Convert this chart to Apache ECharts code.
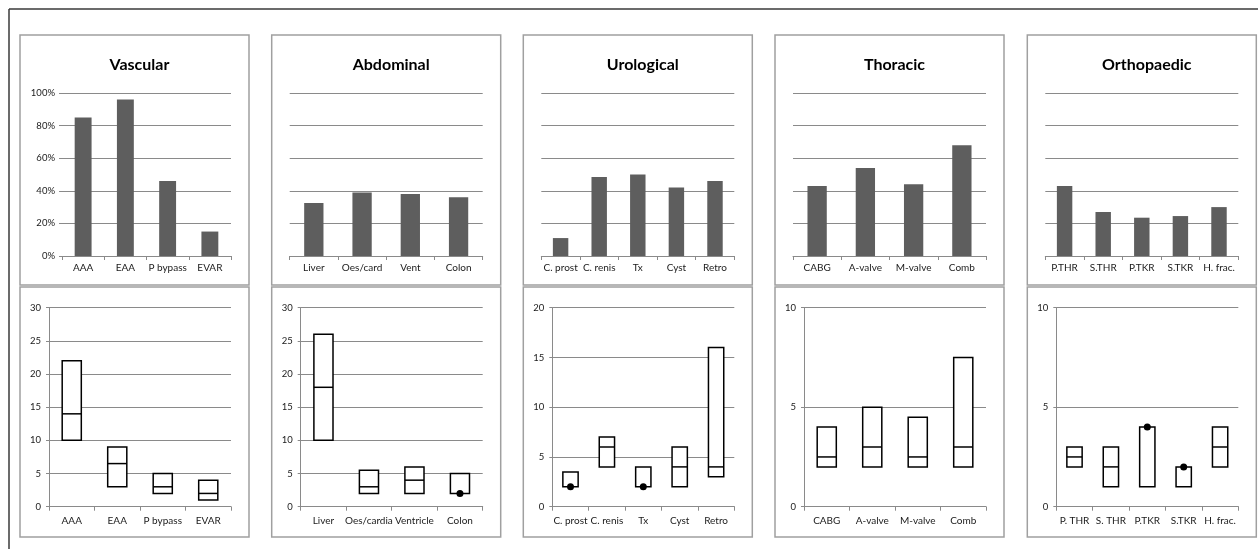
<!DOCTYPE html>
<html>
<head>
<meta charset="utf-8">
<script src="https://cdn.jsdelivr.net/npm/echarts@6/dist/echarts.min.js"></script>
<style>
  html, body { margin: 0; padding: 0; background: #fff; }
  #chart { width: 1258px; height: 554px; }
</style>
</head>
<body>
<div id="chart"></div>
<script>
// Specialty panels
const panelTitles = ['Vascular', 'Abdominal', 'Urological', 'Thoracic', 'Orthopaedic'];

// Upper row: share per procedure (fraction of 1)
const shareCategories = [
  ['AAA', 'EAA', 'P bypass', 'EVAR'],
  ['Liver', 'Oes/card', 'Vent', 'Colon'],
  ['C. prost', 'C. renis', 'Tx', 'Cyst', 'Retro'],
  ['CABG', 'A-valve', 'M-valve', 'Comb'],
  ['P.THR', 'S.THR', 'P.TKR', 'S.TKR', 'H. frac.']
];
const shareValues = [
  [0.85, 0.96, 0.46, 0.15],
  [0.325, 0.39, 0.38, 0.36],
  [0.11, 0.485, 0.50, 0.42, 0.46],
  [0.43, 0.54, 0.44, 0.68],
  [0.43, 0.27, 0.235, 0.245, 0.30]
];
const shareTickLabels = ['0%', '20%', '40%', '60%', '80%', '100%'];

// Lower row: range (low..high) with median per procedure
const rangeCategories = [
  ['AAA', 'EAA', 'P bypass', 'EVAR'],
  ['Liver', 'Oes/cardia', 'Ventricle', 'Colon'],
  ['C. prost', 'C. renis', 'Tx', 'Cyst', 'Retro'],
  ['CABG', 'A-valve', 'M-valve', 'Comb'],
  ['P. THR', 'S. THR', 'P.TKR', 'S.TKR', 'H. frac.']
];
const rangeLow = [
  [10, 3, 2, 1],
  [10, 2, 2, 2],
  [2, 4, 2, 2, 3],
  [2, 2, 2, 2],
  [2, 1, 1, 1, 2]
];
const rangeHigh = [
  [22, 9, 5, 4],
  [26, 5.5, 6, 5],
  [3.5, 7, 4, 6, 16],
  [4, 5, 4.5, 7.5],
  [3, 3, 4, 2, 4]
];
const rangeMedian = [
  [14, 6.5, 3, 2],
  [18, 3, 4, 2],
  [2, 6, 2, 4, 4],
  [2.5, 3, 2.5, 3],
  [2.5, 2, 4, 2, 3]
];
const rangeAxisMax = [30, 30, 20, 10, 10];

// Layout
const FONT = 'Lato, "Open Sans", sans-serif';
const boxLeft = [20, 271.7, 523.3, 775, 1027.3];
const boxWidth = 229;
const gridColor = '#8a8a8a';
const textColor = '#1a1a1a';

const chart = echarts.init(document.getElementById('chart'), null, { renderer: 'canvas' });

const grids = [], xAxes = [], yAxes = [], series = [], titles = [], graphics = [];

// Outer frame (top and left edges)
graphics.push({ type: 'line', shape: { x1: 9, y1: 9, x2: 1258, y2: 9 }, style: { stroke: '#3a3a3a', lineWidth: 1.5 }, silent: true });
graphics.push({ type: 'line', shape: { x1: 9, y1: 9, x2: 9, y2: 549 }, style: { stroke: '#3a3a3a', lineWidth: 1.5 }, silent: true });

panelTitles.forEach((name, i) => {
  const bl = boxLeft[i];
  // panel frames
  graphics.push({ type: 'rect', z: -10, shape: { x: bl, y: 35, width: boxWidth, height: 250 }, style: { fill: '#fff', stroke: '#a0a0a0', lineWidth: 1.5 }, silent: true });
  graphics.push({ type: 'rect', z: -10, shape: { x: bl, y: 287, width: boxWidth, height: 250 }, style: { fill: '#fff', stroke: '#a0a0a0', lineWidth: 1.5 }, silent: true });

  titles.push({
    text: name,
    left: bl + boxWidth / 2,
    top: 52,
    textAlign: 'center',
    textStyle: { fontFamily: FONT, fontSize: 16, fontWeight: 'bold', color: '#000' }
  });

  // upper grid
  const topOffset = i === 0 ? 42 : 18;
  grids.push({ left: bl + topOffset, top: 93, width: 211 - topOffset, height: 163, containLabel: false });
  // lower grid
  grids.push({ left: bl + 29, top: 307.7, width: 182, height: 199, containLabel: false });

  const gTop = i * 2, gBot = i * 2 + 1;

  xAxes.push({
    type: 'category', gridIndex: gTop, data: shareCategories[i],
    axisLine: { lineStyle: { color: gridColor, width: 1 } },
    axisTick: { show: true, length: 4, lineStyle: { color: gridColor } },
    axisLabel: { fontFamily: FONT, fontSize: 10, color: textColor, margin: 7, interval: 0 }
  });
  yAxes.push({
    type: 'value', gridIndex: gTop, min: 0, max: 1, interval: 0.2,
    axisLine: { show: false },
    axisTick: { show: i === 0, length: 3, lineStyle: { color: gridColor } },
    axisLabel: {
      show: i === 0, fontFamily: FONT, fontSize: 9.5, color: textColor, margin: 7,
      formatter: v => shareTickLabels[Math.round(v / 0.2)]
    },
    splitLine: { lineStyle: { color: gridColor, width: 1 } }
  });
  series.push({
    type: 'bar', xAxisIndex: gTop, yAxisIndex: gTop,
    data: shareValues[i], barWidth: '40%',
    itemStyle: { color: '#5e5e5e' }, silent: true, animation: false
  });

  xAxes.push({
    type: 'category', gridIndex: gBot, data: rangeCategories[i],
    axisLine: { lineStyle: { color: gridColor, width: 1 } },
    axisTick: { show: true, length: 4, lineStyle: { color: gridColor } },
    axisLabel: { fontFamily: FONT, fontSize: 10, color: textColor, margin: 9, interval: 0 }
  });
  yAxes.push({
    type: 'value', gridIndex: gBot, min: 0, max: rangeAxisMax[i], interval: 5,
    axisLine: { show: true, lineStyle: { color: gridColor, width: 1 } },
    axisTick: { show: true, length: 3, lineStyle: { color: gridColor } },
    axisLabel: { fontFamily: FONT, fontSize: 9.5, color: textColor, margin: 8 },
    splitLine: { lineStyle: { color: gridColor, width: 1 } }
  });

  const rows = rangeLow[i].map((lo, k) => [k, lo, rangeHigh[i][k], rangeMedian[i][k]]);
  series.push({
    type: 'custom', xAxisIndex: gBot, yAxisIndex: gBot,
    data: rows, encode: { x: 0, y: [1, 2] }, silent: true, animation: false, z: 5,
    renderItem: (params, api) => {
      const k = api.value(0), lo = api.value(1), hi = api.value(2), med = api.value(3);
      const pLo = api.coord([k, lo]);
      const pHi = api.coord([k, hi]);
      const pMed = api.coord([k, med]);
      const w = api.size([1, 0])[0] * 0.42;
      const x0 = pLo[0] - w / 2;
      const children = [{
        type: 'rect',
        shape: { x: x0, y: pHi[1], width: w, height: pLo[1] - pHi[1] },
        style: { fill: '#fff', stroke: '#000', lineWidth: 1.5 }
      }];
      if (med === lo || med === hi) {
        children.push({ type: 'circle', shape: { cx: pMed[0], cy: pMed[1], r: 3.5 }, style: { fill: '#000' } });
      } else {
        children.push({ type: 'line', shape: { x1: x0, y1: pMed[1], x2: x0 + w, y2: pMed[1] }, style: { stroke: '#000', lineWidth: 1.5 } });
      }
      return { type: 'group', children };
    }
  });
});

chart.setOption({
  animation: false,
  backgroundColor: '#fff',
  title: titles,
  grid: grids,
  xAxis: xAxes,
  yAxis: yAxes,
  series: series,
  graphic: graphics
});
</script>
</body>
</html>
